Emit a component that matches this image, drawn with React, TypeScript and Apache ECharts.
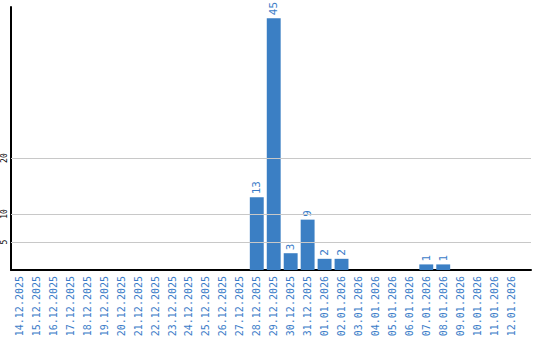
import React, { useEffect, useRef } from "react";
import * as echarts from "echarts";

const categories = [
  "14.12.2025", "15.12.2025", "16.12.2025", "17.12.2025", "18.12.2025",
  "19.12.2025", "20.12.2025", "21.12.2025", "22.12.2025", "23.12.2025",
  "24.12.2025", "25.12.2025", "26.12.2025", "27.12.2025", "28.12.2025",
  "29.12.2025", "30.12.2025", "31.12.2025", "01.01.2026", "02.01.2026",
  "03.01.2026", "04.01.2026", "05.01.2026", "06.01.2026", "07.01.2026",
  "08.01.2026", "09.01.2026", "10.01.2026", "11.01.2026", "12.01.2026",
];
const values = [
  0, 0, 0, 0, 0, 0, 0, 0, 0, 0,
  0, 0, 0, 0, 13, 45, 3, 9, 2, 2,
  0, 0, 0, 0, 1, 1, 0, 0, 0, 0,
];
const yTickLabels = [5, 10, 20];
const gridValues = [5, 10, 20];

const BLUE = "#3b7fc4";
const LABEL_BLUE = "#3a7cc8";
const FONT = "'DejaVu Sans Mono', monospace";

export default function App() {
  const ref = useRef<HTMLDivElement>(null);
  useEffect(() => {
    if (!ref.current) return;
    const chart = echarts.init(ref.current, undefined, { renderer: "svg" });
    chart.setOption({
      animation: false,
      grid: [
        { left: 9.5, top: 7, width: 510, height: 263 },
        { left: 11, top: 7, width: 520, height: 263 },
      ],
      xAxis: [
        {
          type: "category",
          gridIndex: 0,
          data: categories,
          boundaryGap: true,
          axisLine: { show: false },
          axisTick: { show: false },
          axisLabel: {
            rotate: 90,
            interval: 0,
            margin: 6,
            color: LABEL_BLUE,
            fontFamily: FONT,
            fontSize: 10,
          },
        },
        {
          type: "category",
          gridIndex: 1,
          data: categories,
          axisLine: { show: true, lineStyle: { color: "#000", width: 2 } },
          axisTick: { show: false },
          axisLabel: { show: false },
        },
      ],
      yAxis: [
        {
          type: "value",
          gridIndex: 0,
          min: 0,
          max: 47,
          interval: 5,
          axisLine: { show: false },
          axisTick: { show: false },
          splitLine: { show: false },
          axisLabel: {
            rotate: 90,
            margin: 3,
            color: "#000",
            fontFamily: FONT,
            fontSize: 8,
            formatter: (v: number) => (yTickLabels.includes(v) ? String(v) : ""),
          },
        },
        {
          type: "value",
          gridIndex: 1,
          min: 0,
          max: 47,
          interval: 5,
          axisLine: { show: true, lineStyle: { color: "#000", width: 2 } },
          axisTick: { show: false },
          splitLine: { show: false },
          axisLabel: { show: false },
        },
      ],
      series: [
        {
          type: "bar",
          xAxisIndex: 0,
          yAxisIndex: 0,
          data: values,
          barCategoryGap: "18%",
          itemStyle: { color: BLUE },
          label: {
            show: true,
            position: "top",
            rotate: 90,
            align: "left",
            verticalAlign: "middle",
            distance: 3,
            color: LABEL_BLUE,
            fontFamily: FONT,
            fontSize: 11,
            formatter: (p: any) => (p.value ? String(p.value) : ""),
          },
          z: 3,
        },
        {
          type: "line",
          xAxisIndex: 1,
          yAxisIndex: 1,
          data: [],
          silent: true,
          markLine: {
            silent: true,
            symbol: "none",
            label: { show: false },
            lineStyle: { color: "#c8c8c8", width: 1, type: "solid" },
            data: gridValues.map((v) => ({ yAxis: v })),
          },
          z: 1,
        },
      ],
    });
    return () => chart.dispose();
  }, []);
  return <div ref={ref} style={{ width: 540, height: 340, position: "absolute", left: 0, top: 0 }} />;
}
